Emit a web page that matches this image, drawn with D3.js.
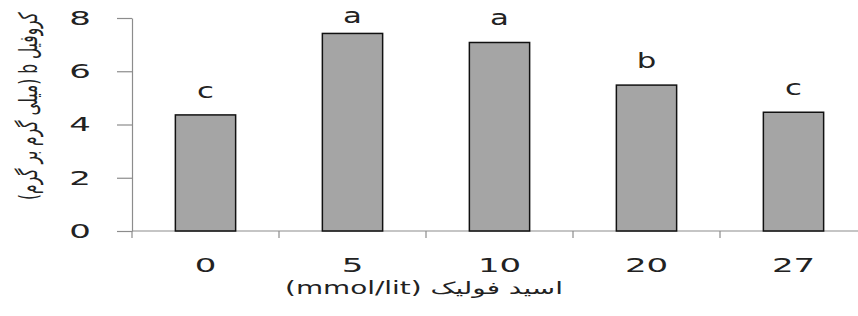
<!DOCTYPE html>
<html>
<head>
<meta charset="utf-8">
<script src="https://cdn.jsdelivr.net/npm/d3@7"></script>
<style>
  body { margin: 0; background: #fff; }
  text { font-family: "DejaVu Sans", sans-serif; fill: #222; }
</style>
</head>
<body>
<div id="chart"></div>
<script>
// data
var doses = ["0", "5", "10", "20", "27"];
var chlB = [4.36, 7.42, 7.08, 5.48, 4.46];
var groups = ["c", "a", "a", "b", "c"];
var yTicks = [0, 2, 4, 6, 8];
var xTitle = "(mmol/lit) اسید فولیک";
var yTitle = "کروفیل b (میلی گرم بر گرم)";

var W = 858, H = 316;
var plotLeft = 132, plotRight = 867, plotTop = 18, plotBottom = 231;

var svg = d3.select("#chart")
  .append("svg")
    .attr("width", W)
    .attr("height", H);

var x = d3.scaleBand()
  .domain(doses)
  .range([plotLeft, plotRight])
  .paddingInner(0.59)
  .paddingOuter(0.295);

var y = d3.scaleLinear()
  .domain([0, 8])
  .range([plotBottom, plotTop]);

var axisColor = "#8c8c8c";

// y axis
var gy = svg.append("g")
  .attr("transform", "translate(" + plotLeft + ",0)")
  .call(d3.axisLeft(y).tickValues(yTicks).tickSize(15).tickSizeOuter(0).tickPadding(26));
gy.select(".domain").attr("stroke", axisColor).attr("stroke-width", 1.2);
gy.selectAll(".tick line").attr("stroke", axisColor).attr("stroke-width", 1.2);
gy.selectAll(".tick text").each(function() {
  var t = d3.select(this), tx = +t.attr("x");
  t.attr("x", 0)
   .attr("transform", "translate(" + tx + ",0) scale(1.7,1)")
   .style("font-size", "20px")
   .attr("fill", "#222");
});

// x axis: line with ticks at band boundaries, labels under band centres
var gx = svg.append("g")
  .attr("transform", "translate(0," + plotBottom + ")");
gx.append("line")
  .attr("x1", plotLeft).attr("x2", plotRight)
  .attr("stroke", axisColor).attr("stroke-width", 1.2);
var bounds = d3.range(doses.length + 1).map(function(i) {
  return plotLeft + x.step() * i;
});
gx.selectAll(".xt")
  .data(bounds)
  .enter().append("line")
    .attr("x1", function(d) { return d; })
    .attr("x2", function(d) { return d; })
    .attr("y1", 0).attr("y2", 7)
    .attr("stroke", axisColor).attr("stroke-width", 1.2);
gx.selectAll(".xl")
  .data(doses)
  .enter().append("text")
    .attr("transform", function(d) {
      return "translate(" + (x(d) + x.bandwidth() / 2) + ",41) scale(1.7,1)";
    })
    .attr("text-anchor", "middle")
    .style("font-size", "20px")
    .text(function(d) { return d; });

// bars
svg.selectAll(".bar")
  .data(chlB)
  .enter().append("rect")
    .attr("x", function(d, i) { return x(doses[i]); })
    .attr("y", function(d) { return y(d); })
    .attr("width", x.bandwidth())
    .attr("height", function(d) { return y(0) - y(d); })
    .attr("fill", "#a5a5a5")
    .attr("stroke", "#111")
    .attr("stroke-width", 1.5);

// significance letters
svg.selectAll(".grp")
  .data(chlB)
  .enter().append("text")
    .attr("transform", function(d, i) {
      var cx = x(doses[i]) + x.bandwidth() / 2;
      var by = Math.max(23, y(d) - 17);
      return "translate(" + cx + "," + by + ") scale(1.4,1)";
    })
    .attr("text-anchor", "middle")
    .style("font-size", "22px")
    .text(function(d, i) { return groups[i]; });

// fit a text element to a given length
function fit(sel, len, cx, cy, rot, thick) {
  var n = sel.node().getComputedTextLength();
  sel.attr("transform", "translate(" + cx + "," + cy + ")" + (rot ? " rotate(" + rot + ")" : "") +
    " scale(" + (len / n) + "," + thick + ")");
}

var xt = svg.append("text")
  .attr("text-anchor", "middle")
  .attr("direction", "ltr")
  .style("font-size", "16px")
  .text(xTitle);
fit(xt, 278, 424, 294, 0, 1.05);

var yt = svg.append("text")
  .attr("text-anchor", "middle")
  .attr("direction", "rtl")
  .attr("dy", "0.35em")
  .style("font-size", "16px")
  .text(yTitle);
fit(yt, 188, 28, 106, -90, 1.6);
</script>
</body>
</html>
